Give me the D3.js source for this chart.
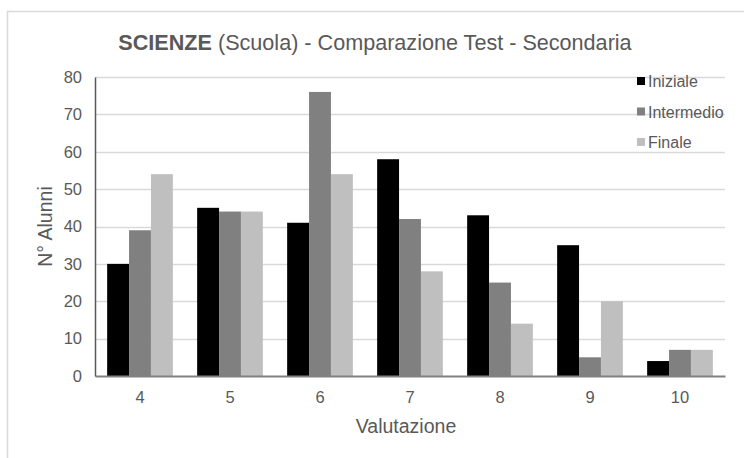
<!DOCTYPE html>
<html>
<head>
<meta charset="utf-8">
<script src="https://cdn.jsdelivr.net/npm/d3@7"></script>
<style>
  html, body { margin: 0; padding: 0; background: #fff; }
  svg { display: block; font-family: "Liberation Sans", Arial, sans-serif; }
</style>
</head>
<body>
<svg id="chart"></svg>
<script>
// data
var aCategories = ["4", "5", "6", "7", "8", "9", "10"];
var aSeries = ["Iniziale", "Intermedio", "Finale"];
var aIniziale = [30, 45, 41, 58, 43, 35, 4];
var aIntermedio = [39, 44, 76, 42, 25, 5, 7];
var aFinale = [54, 44, 54, 28, 14, 20, 7];
var aYTicks = [0, 10, 20, 30, 40, 50, 60, 70, 80];

var iWidth = 744, iHeight = 458;
var oMargin = { top: 77, right: 19, bottom: 82, left: 95 };
var aColors = ["#000000", "#808080", "#bfbfbf"];
var sText = "#595959";
var sFont = "Liberation Sans, Arial, sans-serif";

var aValues = [aIniziale, aIntermedio, aFinale];

var oSvg = d3.select("#chart")
  .attr("width", iWidth)
  .attr("height", iHeight);

// chart frame (only top and left edges are visible in the picture)
oSvg.append("path")
  .attr("d", "M7.5," + iHeight + "V11.5H" + iWidth)
  .attr("fill", "none")
  .attr("stroke", "#d9d9d9")
  .attr("stroke-width", 1.5);

var oScaleX = d3.scaleBand()
  .domain(aCategories)
  .range([oMargin.left, iWidth - oMargin.right])
  .paddingInner(0.27)
  .paddingOuter(0.135);

var oScaleSeries = d3.scaleBand()
  .domain(aSeries)
  .range([0, oScaleX.bandwidth()]);

var oScaleY = d3.scaleLinear()
  .domain([0, 80])
  .range([iHeight - oMargin.bottom, oMargin.top]);

// gridlines
oSvg.append("g")
  .selectAll("line")
  .data(aYTicks.slice(1))
  .enter().append("line")
  .attr("x1", oMargin.left)
  .attr("x2", iWidth - oMargin.right)
  .attr("y1", function (d) { return Math.round(oScaleY(d)) + 0.5; })
  .attr("y2", function (d) { return Math.round(oScaleY(d)) + 0.5; })
  .attr("stroke", "#d9d9d9")
  .attr("stroke-width", 1.3);

// bars
var oGroups = oSvg.append("g")
  .selectAll("g")
  .data(aSeries)
  .enter().append("g")
  .attr("fill", function (d, i) { return aColors[i]; });

oGroups.selectAll("rect")
  .data(function (s, i) {
    return aValues[i].map(function (v, j) {
      return { series: s, cat: aCategories[j], value: v };
    });
  })
  .enter().append("rect")
  .attr("x", function (d) { return oScaleX(d.cat) + oScaleSeries(d.series); })
  .attr("y", function (d) { return oScaleY(d.value); })
  .attr("width", oScaleSeries.bandwidth())
  .attr("height", function (d) { return oScaleY(0) - oScaleY(d.value); });

// y axis
var oYAxis = oSvg.append("g")
  .attr("transform", "translate(" + oMargin.left + ",0)")
  .call(d3.axisLeft(oScaleY).tickValues(aYTicks).tickSize(0).tickPadding(13));
oYAxis.select(".domain").attr("stroke", "#595959").attr("stroke-width", 1.5);
oYAxis.selectAll("text")
  .attr("fill", sText)
  .style("font-size", "16.5px")
  .style("font-family", sFont);

// x axis
var oXAxis = oSvg.append("g")
  .attr("transform", "translate(0," + oScaleY(0) + ")")
  .call(d3.axisBottom(oScaleX).tickSize(0).tickPadding(15));
oXAxis.select(".domain").attr("stroke", "#808080").attr("stroke-width", 2);
oXAxis.selectAll("text")
  .attr("fill", sText)
  .style("font-size", "16.5px")
  .style("font-family", sFont);

// title
var oTitle = oSvg.append("text")
  .attr("x", 375)
  .attr("y", 50)
  .attr("text-anchor", "middle")
  .attr("fill", sText)
  .style("font-size", "21.6px");
oTitle.append("tspan").attr("font-weight", "bold").text("SCIENZE");
oTitle.append("tspan").text(" (Scuola) - Comparazione Test - Secondaria");

// axis titles
oSvg.append("text")
  .attr("transform", "translate(52," + ((oScaleY(0) + oScaleY(80)) / 2) + ") rotate(-90)")
  .attr("text-anchor", "middle")
  .attr("fill", sText)
  .style("font-size", "19.5px")
  .text("N° Alunni");

oSvg.append("text")
  .attr("x", (oMargin.left + iWidth - oMargin.right) / 2 - 4)
  .attr("y", 433)
  .attr("text-anchor", "middle")
  .attr("fill", sText)
  .style("font-size", "19.5px")
  .text("Valutazione");

// legend
var oLegend = oSvg.append("g")
  .selectAll("g")
  .data(aSeries)
  .enter().append("g")
  .attr("transform", function (d, i) { return "translate(637," + (81 + i * 30.5) + ")"; });

oLegend.append("rect")
  .attr("x", 0)
  .attr("y", -4)
  .attr("width", 8)
  .attr("height", 8)
  .attr("fill", function (d, i) { return aColors[i]; });

oLegend.append("text")
  .attr("x", 11)
  .attr("y", 6)
  .attr("fill", sText)
  .style("font-size", "16px")
  .text(function (d) { return d; });
</script>
</body>
</html>
